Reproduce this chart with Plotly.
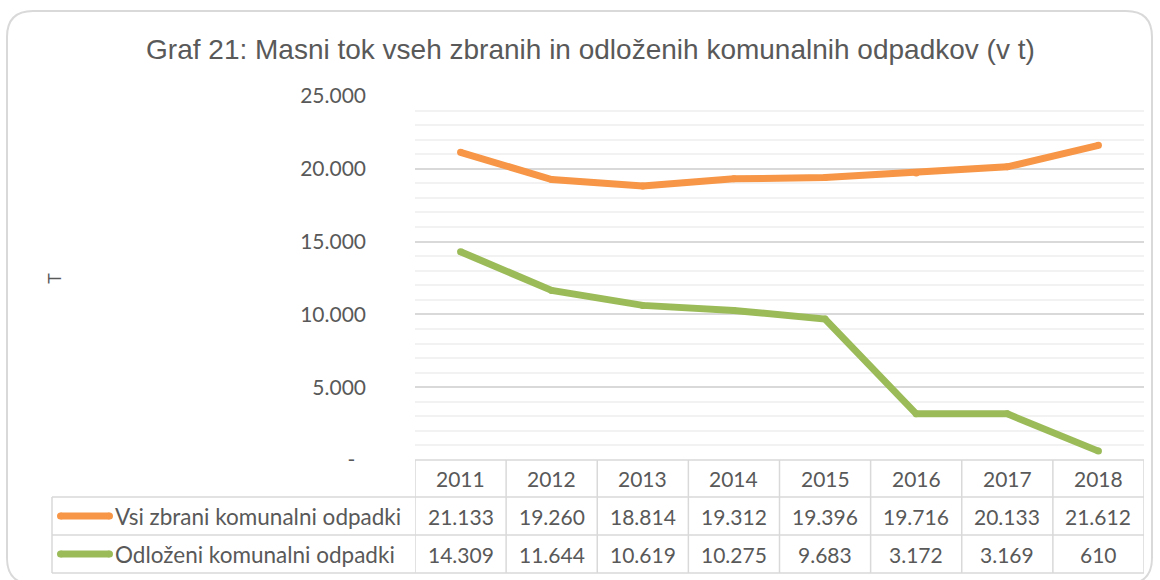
import plotly.graph_objects as go

years = ["2011", "2012", "2013", "2014", "2015", "2016", "2017", "2018"]
series_names = ["Vsi zbrani komunalni odpadki", "Odloženi komunalni odpadki"]
vsi_zbrani = [21133, 19260, 18814, 19312, 19396, 19716, 20133, 21612]
odlozeni = [14309, 11644, 10619, 10275, 9683, 3172, 3169, 610]
series_values = [vsi_zbrani, odlozeni]
colors = ["#F79646", "#9BBB59"]
y_tick_vals = [0, 5000, 10000, 15000, 20000, 25000]

W, H = 1160, 580
TXT = "#595959"
GRID = "#D9D9D9"
MINOR = "#F2F2F2"
FONT = "Lato, 'Noto Sans', sans-serif"


def px(x):
    return x / W


def py(y):
    return 1 - y / H


def fmt(v):
    return "-\u00a0\u00a0" if v == 0 else f"{v:,}".replace(",", ".")


xs = list(range(len(years)))

fig = go.Figure()
for name, vals, col in zip(series_names, series_values, colors):
    fig.add_trace(go.Scatter(
        x=xs, y=vals, name=name, mode="lines+markers",
        line=dict(color=col, width=7),
        marker=dict(color=col, size=7),
        showlegend=False, hoverinfo="skip",
    ))

PL, PR, PT, PB = 415, 1144, 96, 460
ROW_TOP = [460, 497, 535, 573]
TL = 52

shapes = []
r = 26
x0b, x1b, y0b, y1b = 7, 1152, -4, 569  # pixel coords, y up from bottom
shapes.append(dict(
    type="path", xref="paper", yref="paper", xsizemode="pixel", ysizemode="pixel",
    xanchor=0, yanchor=0,
    path=(f"M {x0b+r},{y1b} L {x1b-r},{y1b} Q {x1b},{y1b} {x1b},{y1b-r} "
          f"L {x1b},{y0b+r} Q {x1b},{y0b} {x1b-r},{y0b} L {x0b+r},{y0b} "
          f"Q {x0b},{y0b} {x0b},{y0b+r} L {x0b},{y1b-r} Q {x0b},{y1b} {x0b+r},{y1b} Z"),
    line=dict(color="#D9D9D9", width=2), fillcolor="rgba(0,0,0,0)", layer="below",
))
shapes.append(dict(type="line", xref="x", yref="paper", x0=-0.5, x1=len(years) - 0.5,
                   y0=py(ROW_TOP[0]), y1=py(ROW_TOP[0]), line=dict(color=GRID, width=1.5)))
for yy in ROW_TOP[1:]:
    shapes.append(dict(type="line", xref="paper", yref="paper", x0=px(TL), x1=px(PR),
                       y0=py(yy), y1=py(yy), line=dict(color=GRID, width=1.5)))
for i in range(len(years) + 1):
    shapes.append(dict(type="line", xref="x", yref="paper", x0=i - 0.5, x1=i - 0.5,
                       y0=py(ROW_TOP[0]), y1=py(ROW_TOP[-1]), line=dict(color=GRID, width=1.5)))
shapes.append(dict(type="line", xref="paper", yref="paper", x0=px(TL), x1=px(TL),
                   y0=py(ROW_TOP[1]), y1=py(ROW_TOP[-1]), line=dict(color=GRID, width=1.5)))

annotations = []
row_centers = [478, 516, 554]
for i, yr in enumerate(years):
    annotations.append(dict(x=i, y=py(row_centers[0]), xref="x", yref="paper", text=yr,
                            xanchor="center", yanchor="middle", showarrow=False,
                            font=dict(family=FONT, size=21, color=TXT)))
for r_i, (name, vals, col) in enumerate(zip(series_names, series_values, colors)):
    cy = row_centers[r_i + 1]
    for i, v in enumerate(vals):
        annotations.append(dict(x=i, y=py(cy), xref="x", yref="paper", text=fmt(v),
                                xanchor="center", yanchor="middle", showarrow=False,
                                font=dict(family=FONT, size=21, color=TXT)))
    annotations.append(dict(x=px(113), y=py(cy), xref="paper", yref="paper", text=name,
                            xanchor="left", yanchor="middle", showarrow=False,
                            font=dict(family=FONT, size=22.5, color=TXT)))
    shapes.append(dict(type="line", xref="paper", yref="paper", xsizemode="pixel",
                       ysizemode="pixel", xanchor=px(57), yanchor=py(cy),
                       x0=3.5, x1=52.5, y0=0, y1=0, line=dict(color=col, width=7)))
    for cx in (3.5, 52.5):
        shapes.append(dict(type="circle", xref="paper", yref="paper", xsizemode="pixel",
                           ysizemode="pixel", xanchor=px(57), yanchor=py(cy),
                           x0=cx - 3.5, x1=cx + 3.5, y0=-3.5, y1=3.5,
                           fillcolor=col, line=dict(width=0)))

annotations.append(dict(x=px(55), y=py(279), xref="paper", yref="paper", text="T",
                        textangle=-90, xanchor="center", yanchor="middle", showarrow=False,
                        font=dict(family="'Liberation Sans', Arial, sans-serif", size=18, color=TXT)))

fig.update_layout(
    width=W, height=H, margin=dict(l=0, r=0, t=0, b=0, pad=0, autoexpand=False),
    paper_bgcolor="white", plot_bgcolor="white",
    title=dict(text="Graf 21: Masni tok vseh zbranih in odloženih komunalnih odpadkov (v t)",
               x=0.509, xanchor="center", y=py(49), yanchor="middle", yref="container",
               font=dict(family="'Liberation Sans', Arial, sans-serif", size=28, color=TXT)),
    xaxis=dict(domain=[px(PL), px(PR)], range=[-0.5, len(years) - 0.5],
               showticklabels=False, showgrid=False, zeroline=False, showline=False,
               fixedrange=True, automargin=False),
    yaxis=dict(domain=[py(PB), py(PT)], range=[0, 25000],
               tickvals=y_tick_vals, ticktext=[fmt(v) for v in y_tick_vals],
               showgrid=True, gridcolor=GRID, gridwidth=1.5, zeroline=False,
               showline=False, ticks="", ticklabelstandoff=48, automargin=False,
               tickfont=dict(family=FONT, size=21, color=TXT),
               minor=dict(dtick=1000, showgrid=True, gridcolor=MINOR, gridwidth=1.5),
               fixedrange=True),
    shapes=shapes, annotations=annotations,
)

fig.write_html("out.html", post_script="document.body.style.margin='0';",
               config=dict(displayModeBar=False))
